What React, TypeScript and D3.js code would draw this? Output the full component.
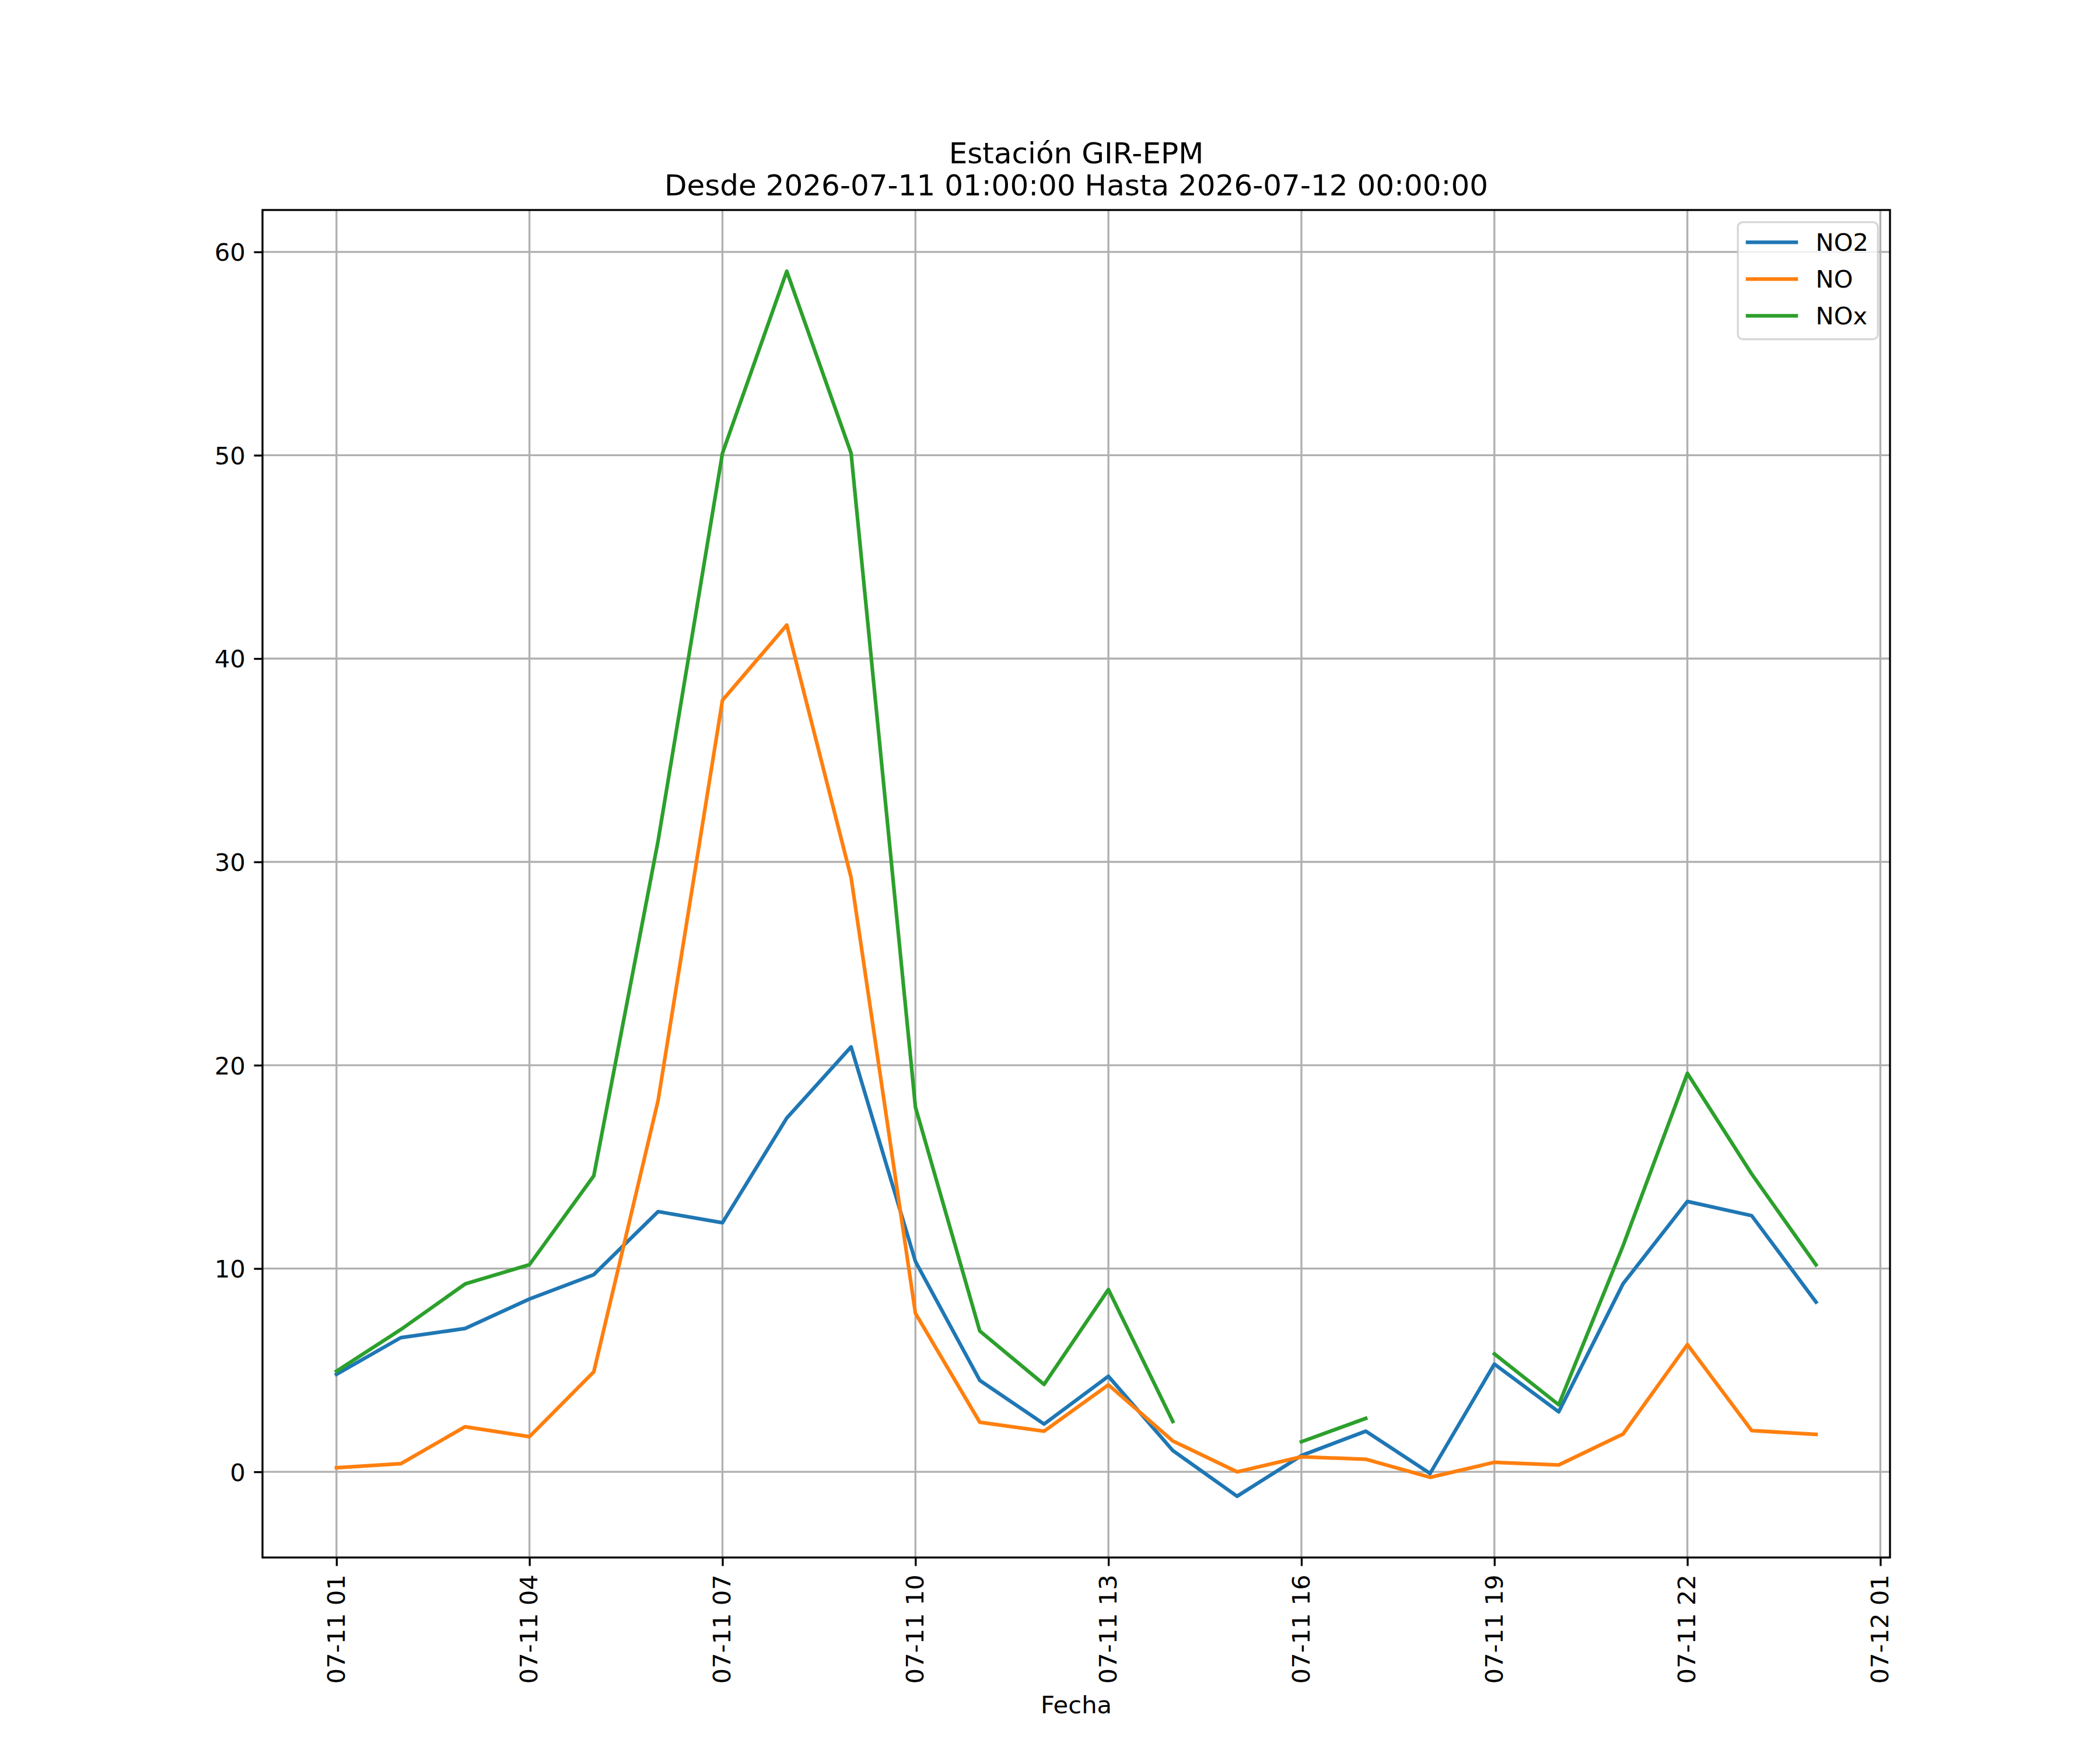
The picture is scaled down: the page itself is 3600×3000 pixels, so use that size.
import React, { useRef, useEffect } from 'react';
import * as d3 from 'd3';

// hourly readings, station GIR-EPM
const times = [
    "2026-07-11 01:00", "2026-07-11 02:00", "2026-07-11 03:00", "2026-07-11 04:00",
    "2026-07-11 05:00", "2026-07-11 06:00", "2026-07-11 07:00", "2026-07-11 08:00",
    "2026-07-11 09:00", "2026-07-11 10:00", "2026-07-11 11:00", "2026-07-11 12:00",
    "2026-07-11 13:00", "2026-07-11 14:00", "2026-07-11 15:00", "2026-07-11 16:00",
    "2026-07-11 17:00", "2026-07-11 18:00", "2026-07-11 19:00", "2026-07-11 20:00",
    "2026-07-11 21:00", "2026-07-11 22:00", "2026-07-11 23:00", "2026-07-12 00:00",
];

const no2 = [4.8, 6.6, 7.05, 8.5, 9.7, 12.8, 12.25, 17.4, 20.9, 10.35, 4.5, 2.35,
    4.7, 1.05, -1.2, 0.8, 2.0, -0.08, 5.3, 2.95, 9.25, 13.3, 12.6, 8.35];
const no = [0.2, 0.4, 2.22, 1.73, 4.92, 18.27, 37.95, 41.65, 29.23, 7.8, 2.44, 2.0,
    4.28, 1.52, 0.0, 0.74, 0.62, -0.27, 0.47, 0.34, 1.86, 6.26, 2.03, 1.84];
const nox: (number | null)[] = [4.95, 7.0, 9.24, 10.19, 14.56, 31.04, 50.1, 59.05, 50.1, 17.94, 6.93, 4.3,
    8.97, 2.48, null, 1.48, 2.63, null, 5.8, 3.3, 11.12, 19.6, 14.65, 10.18];

const seriesNames = ["NO2", "NO", "NOx"];
const seriesColors = ["#1f77b4", "#ff7f0e", "#2ca02c"];

const xTickTimes = [
    "2026-07-11 01:00", "2026-07-11 04:00", "2026-07-11 07:00", "2026-07-11 10:00",
    "2026-07-11 13:00", "2026-07-11 16:00", "2026-07-11 19:00", "2026-07-11 22:00",
    "2026-07-12 01:00",
];
const yTicks = [0, 10, 20, 30, 40, 50, 60];

const titleLines = ["Estación GIR-EPM", "Desde 2026-07-11 01:00:00 Hasta 2026-07-12 00:00:00"];
const xLabel = "Fecha";

const FONT = "DejaVu Sans, sans-serif";

export default function App() {
    const svgRef = useRef<SVGSVGElement>(null);
    const width = 3600;
    const height = 3000;

    useEffect(() => {
        document.body.style.margin = "0";
        if (!svgRef.current) return;

        const svg = d3.select(svgRef.current);
        svg.selectAll("*").remove();

        const margin = { top: 360, right: 360, bottom: 330, left: 450 };
        const innerWidth = width - margin.left - margin.right;
        const innerHeight = height - margin.top - margin.bottom;

        const parse = d3.utcParse("%Y-%m-%d %H:%M");
        const dates = times.map(t => parse(t) as Date);
        const tickDates = xTickTimes.map(t => parse(t) as Date);

        const series = [no2, no, nox].map((vals, i) => ({
            name: seriesNames[i],
            color: seriesColors[i],
            points: vals.map((v, j) => ({ date: dates[j], value: v })),
        }));

        // matplotlib-style 5% autoscale margins
        const [t0, t1] = d3.extent(dates) as [Date, Date];
        const tSpan = +t1 - +t0;
        const xScale = d3.scaleUtc()
            .domain([new Date(+t0 - tSpan * 0.05), new Date(+t1 + tSpan * 0.05)])
            .range([0, innerWidth]);

        const allValues = [...no2, ...no, ...nox].filter(v => v != null) as number[];
        const vMin = d3.min(allValues) as number;
        const vMax = d3.max(allValues) as number;
        const vSpan = vMax - vMin;
        const yScale = d3.scaleLinear()
            .domain([vMin - vSpan * 0.05, vMax + vSpan * 0.05])
            .range([innerHeight, 0]);

        const lw = 3.333; // 0.8pt at 300dpi
        const tickLen = 14.58;
        const fontSize = 41.67;

        svg.append("rect").attr("width", width).attr("height", height).attr("fill", "#fff");

        const g = svg.append("g")
            .attr("transform", `translate(${margin.left},${margin.top})`);

        // Grid
        g.append("g").selectAll("line.vg")
            .data(tickDates)
            .join("line")
            .attr("x1", d => xScale(d)).attr("x2", d => xScale(d))
            .attr("y1", 0).attr("y2", innerHeight)
            .attr("stroke", "#b0b0b0").attr("stroke-width", lw);

        g.append("g").selectAll("line.hg")
            .data(yTicks)
            .join("line")
            .attr("x1", 0).attr("x2", innerWidth)
            .attr("y1", d => yScale(d)).attr("y2", d => yScale(d))
            .attr("stroke", "#b0b0b0").attr("stroke-width", lw);

        // Lines
        const line = d3.line<{ date: Date; value: number | null }>()
            .defined(d => d.value != null)
            .x(d => xScale(d.date))
            .y(d => yScale(d.value as number));

        series.forEach(s => {
            g.append("path")
                .datum(s.points)
                .attr("fill", "none")
                .attr("stroke", s.color)
                .attr("stroke-width", 6.25)
                .attr("stroke-linejoin", "round")
                .attr("stroke-linecap", "square")
                .attr("d", line);
        });

        // Axes
        const xAxis = d3.axisBottom(xScale)
            .tickValues(tickDates)
            .tickFormat(d => d3.utcFormat("%m-%d %H")(d as Date))
            .tickSize(tickLen)
            .tickPadding(tickLen);

        const xg = g.append("g")
            .attr("transform", `translate(0,${innerHeight})`)
            .call(xAxis);
        xg.select(".domain").remove();
        xg.selectAll(".tick line").attr("stroke", "#000").attr("stroke-width", lw);
        xg.selectAll(".tick text")
            .attr("font-family", FONT)
            .attr("font-size", fontSize)
            .attr("fill", "#000")
            .attr("transform", "rotate(-90)")
            .attr("x", -(tickLen * 2))
            .attr("y", 0)
            .attr("dy", "0.32em")
            .attr("text-anchor", "end");

        const yAxis = d3.axisLeft(yScale)
            .tickValues(yTicks)
            .tickFormat(d => `${d}`)
            .tickSize(tickLen)
            .tickPadding(tickLen);

        const yg = g.append("g").call(yAxis);
        yg.select(".domain").remove();
        yg.selectAll(".tick line").attr("stroke", "#000").attr("stroke-width", lw);
        yg.selectAll(".tick text")
            .attr("font-family", FONT)
            .attr("font-size", fontSize)
            .attr("fill", "#000")
            .attr("dy", "0.36em");

        // Spines
        g.append("rect")
            .attr("width", innerWidth)
            .attr("height", innerHeight)
            .attr("fill", "none")
            .attr("stroke", "#000")
            .attr("stroke-width", lw);

        // Legend
        const lg = g.append("g").attr("transform", `translate(${innerWidth - 20.8 - 240},20.8)`);
        lg.append("rect")
            .attr("width", 240)
            .attr("height", 200.7)
            .attr("rx", 8.3)
            .attr("fill", "#fff")
            .attr("fill-opacity", 0.8)
            .attr("stroke", "#cccccc")
            .attr("stroke-opacity", 0.8)
            .attr("stroke-width", lw);

        series.forEach((s, i) => {
            const cy = 34.7 + i * 63;
            lg.append("line")
                .attr("x1", 16.7).attr("x2", 100)
                .attr("y1", cy).attr("y2", cy)
                .attr("stroke", s.color)
                .attr("stroke-width", 6.25)
                .attr("stroke-linecap", "square");
            lg.append("text")
                .attr("x", 133.3)
                .attr("y", cy + 14.5)
                .attr("font-family", FONT)
                .attr("font-size", fontSize)
                .attr("fill", "#000")
                .text(s.name);
        });

        // Title
        titleLines.forEach((t, i) => {
            svg.append("text")
                .attr("x", margin.left + innerWidth / 2)
                .attr("y", 280 + i * 55)
                .attr("text-anchor", "middle")
                .attr("font-family", FONT)
                .attr("font-size", 50)
                .attr("fill", "#000")
                .text(t);
        });

        // X label
        svg.append("text")
            .attr("x", margin.left + innerWidth / 2)
            .attr("y", 2937)
            .attr("text-anchor", "middle")
            .attr("font-family", FONT)
            .attr("font-size", fontSize)
            .attr("fill", "#000")
            .text(xLabel);
    }, []);

    return (
        <svg
            ref={svgRef}
            width={width}
            height={height}
            viewBox={`0 0 ${width} ${height}`}
            style={{ display: "block" }}
        />
    );
}
